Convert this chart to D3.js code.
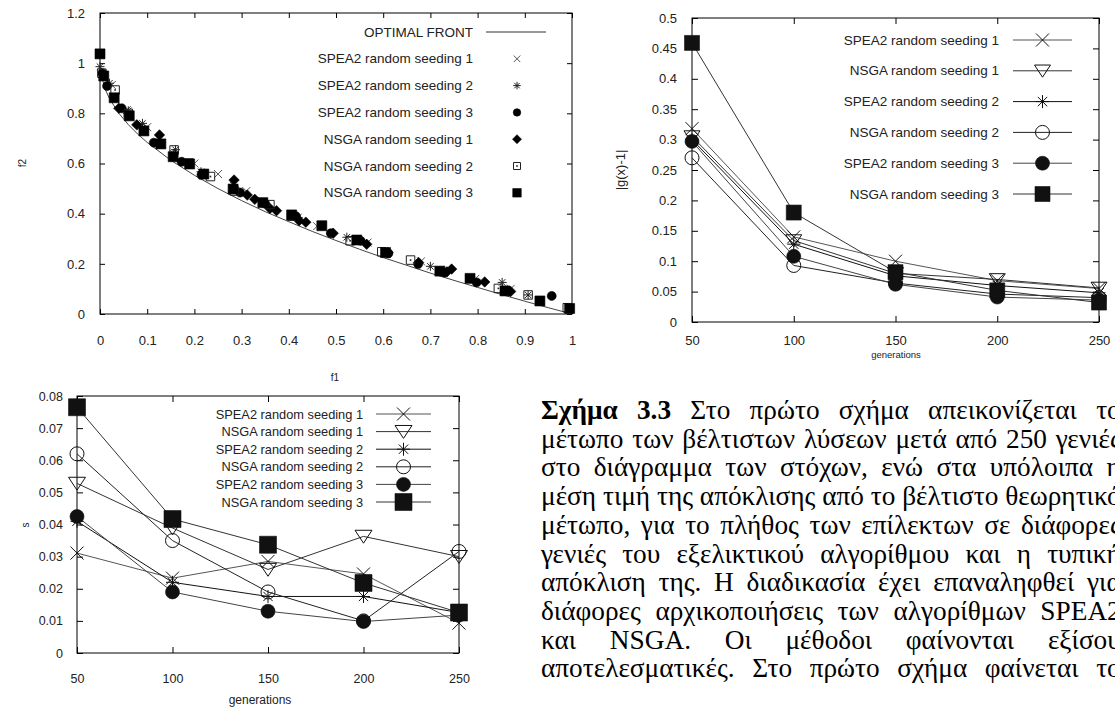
<!DOCTYPE html>
<html>
<head>
<meta charset="utf-8">
<script src="https://cdn.jsdelivr.net/npm/d3@7"></script>
<style>
  html, body { margin: 0; padding: 0; background: #fff; overflow: hidden; }
  svg { display: block; }
</style>
</head>
<body>
<svg id="fig" width="1115" height="709"></svg>
<script>
// ---------------- data ----------------
// Analytical optimal front (f1, f2)
const optimalFront = [
  [0.001, 0.968], [0.01, 0.9], [0.02, 0.859], [0.04, 0.8], [0.06, 0.755], [0.08, 0.717],
  [0.1, 0.684], [0.15, 0.613], [0.2, 0.553], [0.25, 0.5], [0.3, 0.452], [0.35, 0.408],
  [0.4, 0.368], [0.45, 0.329], [0.5, 0.293], [0.55, 0.258], [0.6, 0.225], [0.65, 0.194],
  [0.7, 0.163], [0.75, 0.134], [0.8, 0.106], [0.85, 0.078], [0.9, 0.051], [0.95, 0.025], [1, 0]
];

// Non-dominated sets after 250 generations (f1, f2)
const frontSpea2Seed1 = [
  [0.025, 0.913], [0.057, 0.813], [0.1, 0.745], [0.2, 0.6], [0.25, 0.558], [0.31, 0.49],
  [0.46, 0.35], [0.567, 0.285], [0.68, 0.21], [0.795, 0.14], [0.87, 0.1]
];
const frontSpea2Seed2 = [
  [0, 0.986], [0.02, 0.92], [0.06, 0.81], [0.09, 0.76], [0.155, 0.64], [0.16, 0.655],
  [0.214, 0.567], [0.282, 0.515], [0.42, 0.385], [0.523, 0.306], [0.7, 0.19], [0.852, 0.126], [0.907, 0.076]
];
const frontSpea2Seed3 = [
  [0.005, 0.96], [0.015, 0.909], [0.046, 0.82], [0.114, 0.683], [0.173, 0.607], [0.215, 0.555],
  [0.297, 0.484], [0.35, 0.44], [0.415, 0.39], [0.489, 0.322], [0.552, 0.292], [0.611, 0.242],
  [0.674, 0.199], [0.73, 0.165], [0.798, 0.126], [0.957, 0.072]
];
const frontNsgaSeed1 = [
  [0.04, 0.82], [0.078, 0.754], [0.126, 0.714], [0.284, 0.534], [0.312, 0.474], [0.328, 0.457],
  [0.36, 0.421], [0.374, 0.412], [0.422, 0.372], [0.436, 0.366], [0.494, 0.322], [0.565, 0.278],
  [0.61, 0.245], [0.675, 0.205], [0.735, 0.168], [0.745, 0.179], [0.815, 0.128], [0.87, 0.09]
];
const frontNsgaSeed2 = [
  [0.004, 0.96], [0.032, 0.893], [0.06, 0.8], [0.157, 0.654], [0.189, 0.602], [0.234, 0.548],
  [0.285, 0.49], [0.36, 0.436], [0.406, 0.39], [0.53, 0.292], [0.597, 0.248], [0.658, 0.215],
  [0.844, 0.102], [0.907, 0.076], [0.99, 0.025]
];
const frontNsgaSeed3 = [
  [0, 1.037], [0.008, 0.949], [0.03, 0.862], [0.062, 0.79], [0.093, 0.73], [0.129, 0.678],
  [0.155, 0.627], [0.19, 0.598], [0.22, 0.558], [0.282, 0.498], [0.345, 0.444], [0.406, 0.395],
  [0.47, 0.352], [0.544, 0.295], [0.605, 0.245], [0.72, 0.171], [0.784, 0.142], [0.858, 0.092],
  [0.932, 0.052], [0.995, 0.022]
];

const generations = [50, 100, 150, 200, 250];

// Mean deviation |g(x)-1| per generation
const gSpea2Seed1 = [0.318, 0.14, 0.1, 0.068, 0.055];
const gNsgaSeed1  = [0.305, 0.134, 0.08, 0.07, 0.056];
const gSpea2Seed2 = [0.3, 0.128, 0.076, 0.06, 0.048];
const gNsgaSeed2  = [0.27, 0.093, 0.064, 0.046, 0.04];
const gSpea2Seed3 = [0.297, 0.108, 0.062, 0.041, 0.036];
const gNsgaSeed3  = [0.459, 0.18, 0.082, 0.052, 0.032];

// Standard deviation s per generation
const sSpea2Seed1 = [0.0311, 0.0233, 0.0285, 0.0246, 0.0093];
const sNsgaSeed1  = [0.0528, 0.0389, 0.026, 0.0363, 0.030];
const sSpea2Seed2 = [0.041, 0.022, 0.0176, 0.0176, 0.0126];
const sNsgaSeed2  = [0.062, 0.035, 0.019, 0.010, 0.0316];
const sSpea2Seed3 = [0.0425, 0.019, 0.013, 0.0098, 0.0118];
const sNsgaSeed3  = [0.0765, 0.0417, 0.0337, 0.0218, 0.0126];

// Axis ticks and labels
const f1Ticks = [0, 0.1, 0.2, 0.3, 0.4, 0.5, 0.6, 0.7, 0.8, 0.9, 1];
const f1Labels = ["0", "0.1", "0.2", "0.3", "0.4", "0.5", "0.6", "0.7", "0.8", "0.9", "1"];
const f2Ticks = [0, 0.2, 0.4, 0.6, 0.8, 1, 1.2];
const f2Labels = ["0", "0.2", "0.4", "0.6", "0.8", "1", "1.2"];
const genLabels = ["50", "100", "150", "200", "250"];
const gTicks = [0, 0.05, 0.1, 0.15, 0.2, 0.25, 0.3, 0.35, 0.4, 0.45, 0.5];
const gLabels = ["0", "0.05", "0.1", "0.15", "0.2", "0.25", "0.3", "0.35", "0.4", "0.45", "0.5"];
const sTicks = [0, 0.01, 0.02, 0.03, 0.04, 0.05, 0.06, 0.07, 0.08];
const sLabels = ["0", "0.01", "0.02", "0.03", "0.04", "0.05", "0.06", "0.07", "0.08"];

// Caption lines (Greek)
const captionLines = [
  "Σχήμα 3.3 Στο πρώτο σχήμα απεικονίζεται το",
  "μέτωπο των βέλτιστων λύσεων μετά από 250 γενιές",
  "στο διάγραμμα των στόχων, ενώ στα υπόλοιπα η",
  "μέση τιμή της απόκλισης από το βέλτιστο θεωρητικό",
  "μέτωπο, για το πλήθος των επίλεκτων σε διάφορες",
  "γενιές του εξελικτικού αλγορίθμου και η τυπική",
  "απόκλιση της. Η διαδικασία έχει επαναληφθεί για",
  "διάφορες αρχικοποιήσεις των αλγορίθμων SPEA2",
  "και NSGA. Οι μέθοδοι φαίνονται εξίσου",
  "αποτελεσματικές. Στο πρώτο σχήμα φαίνεται το"
];

// ---------------- helpers ----------------
const SANS = "'Liberation Sans', Arial, Helvetica, sans-serif";
const SERIF = "'Liberation Serif', 'Times New Roman', serif";
const svg = d3.select("#fig");
svg.append("rect").attr("width", 1115).attr("height", 709).attr("fill", "#fff");

function markerPath(type, s) {
  const h = s / 2, k = h * 0.72;
  switch (type) {
    case "x": return `M${-h},${-h}L${h},${h}M${-h},${h}L${h},${-h}`;
    case "star": return `M${-h},0L${h},0M0,${-h}L0,${h}M${-k},${-k}L${k},${k}M${-k},${k}L${k},${-k}`;
    case "tri": return `M${-h},${-h * 0.72}L${h},${-h * 0.72}L0,${h * 0.8}Z`;
    case "square": case "box": return `M${-h},${-h}H${h}V${h}H${-h}Z`;
    case "diamond": return `M0,${-h}L${h},0L0,${h}L${-h},0Z`;
    default: return `M${h},0A${h},${h} 0 1,1 ${-h},0A${h},${h} 0 1,1 ${h},0Z`;
  }
}

function drawMarker(g, type, s, x, y, color) {
  const filled = ["square", "diamond", "dot"].includes(type);
  g.append("path")
    .attr("d", markerPath(type, s))
    .attr("transform", `translate(${x},${y})`)
    .attr("fill", filled ? color : "none")
    .attr("stroke", color)
    .attr("stroke-width", filled ? 0.6 : 1);
  if (type === "box") {
    g.append("rect").attr("x", x - 0.8).attr("y", y - 0.8).attr("width", 1.6).attr("height", 1.6).attr("fill", color);
  }
}

function frame(g, x, y, xTicks, xLabels, yTicks, yLabels, o) {
  const [x0, x1] = x.range(), [yb, yt] = y.range();
  const styleAxis = sel => {
    sel.select(".domain").remove();
    sel.selectAll(".tick line").attr("stroke", "#000");
    sel.selectAll("text").attr("font-family", SANS).attr("font-size", o.font).attr("fill", "#222");
  };
  g.append("g").attr("transform", `translate(0,${yb})`)
    .call(d3.axisBottom(x).tickValues(xTicks).tickFormat((d, i) => xLabels[i])
      .tickSizeInner(-o.tick).tickSizeOuter(0).tickPadding(o.xPad)).call(styleAxis);
  g.append("g").attr("transform", `translate(${x0},0)`)
    .call(d3.axisLeft(y).tickValues(yTicks).tickFormat((d, i) => yLabels[i])
      .tickSizeInner(-o.tick).tickSizeOuter(0).tickPadding(o.yPad)).call(styleAxis);
  g.append("g").attr("transform", `translate(0,${yt})`)
    .call(d3.axisTop(x).tickValues(xTicks).tickFormat("").tickSizeInner(-o.tick).tickSizeOuter(0)).call(styleAxis);
  g.append("g").attr("transform", `translate(${x1},0)`)
    .call(d3.axisRight(y).tickValues(yTicks).tickFormat("").tickSizeInner(-o.tick).tickSizeOuter(0)).call(styleAxis);
  g.append("rect").attr("x", x0).attr("y", yt).attr("width", x1 - x0).attr("height", yb - yt)
    .attr("fill", "none").attr("stroke", "#000").attr("stroke-width", 1);
}

function label(g, text, x, y, size, rotate) {
  g.append("text").attr("x", x).attr("y", y)
    .attr("transform", rotate ? `rotate(-90,${x},${y})` : null)
    .attr("text-anchor", "middle").attr("dominant-baseline", "central")
    .attr("font-family", SANS).attr("font-size", size).attr("fill", "#222").text(text);
}

// ---------------- chart 1: objective space ----------------
{
  const g = svg.append("g");
  const x = d3.scaleLinear().domain([0, 1]).range([100, 572]);
  const y = d3.scaleLinear().domain([0, 1.2]).range([314, 13]);
  frame(g, x, y, f1Ticks, f1Labels, f2Ticks, f2Labels, { tick: 5, xPad: 22, yPad: 15, font: 13 });
  label(g, "f1", 335, 377, 10);
  label(g, "f2", 22, 163, 10, true);

  const line = d3.line().x(d => x(d[0])).y(d => y(d[1]));
  g.append("path").datum(optimalFront).attr("d", line)
    .attr("fill", "none").attr("stroke", "#444").attr("stroke-width", 1);

  const sets = [
    { name: "SPEA2 random seeding 1", data: frontSpea2Seed1, type: "x", s: 8, c: "#555" },
    { name: "SPEA2 random seeding 2", data: frontSpea2Seed2, type: "star", s: 9, c: "#222" },
    { name: "SPEA2 random seeding 3", data: frontSpea2Seed3, type: "dot", s: 9, c: "#000" },
    { name: "NSGA random seeding 1", data: frontNsgaSeed1, type: "diamond", s: 10.5, c: "#000" },
    { name: "NSGA random seeding 2", data: frontNsgaSeed2, type: "box", s: 8.5, c: "#222" },
    { name: "NSGA random seeding 3", data: frontNsgaSeed3, type: "square", s: 10, c: "#000" }
  ];
  sets.forEach(st => st.data.forEach(d => drawMarker(g, st.type, st.s, x(d[0]), y(d[1]), st.c)));

  // legend
  const rowY = i => 32 + i * 26.8;
  const lg = g.append("g");
  lg.append("text").attr("x", 473).attr("y", rowY(0)).attr("text-anchor", "end")
    .attr("dominant-baseline", "central").attr("font-family", SANS).attr("font-size", 13.5)
    .attr("fill", "#222").text("OPTIMAL FRONT");
  lg.append("line").attr("x1", 486).attr("x2", 546).attr("y1", rowY(0)).attr("y2", rowY(0))
    .attr("stroke", "#333");
  sets.forEach((st, i) => {
    lg.append("text").attr("x", 473).attr("y", rowY(i + 1)).attr("text-anchor", "end")
      .attr("dominant-baseline", "central").attr("font-family", SANS).attr("font-size", 13.5)
      .attr("fill", "#222").text(st.name);
    drawMarker(lg, st.type, st.s - 1.5, 517, rowY(i + 1), st.c);
  });
}

// shared series styling for the convergence plots
const runStyles = [
  { name: "SPEA2 random seeding 1", type: "x", line: "#555" },
  { name: "NSGA random seeding 1", type: "tri", line: "#333" },
  { name: "SPEA2 random seeding 2", type: "star", line: "#111" },
  { name: "NSGA random seeding 2", type: "circle", line: "#222" },
  { name: "SPEA2 random seeding 3", type: "dot", line: "#444" },
  { name: "NSGA random seeding 3", type: "square", line: "#333" }
];

function convergencePlot(o) {
  const g = svg.append("g");
  const x = d3.scaleLinear().domain([50, 250]).range(o.xr);
  const y = d3.scaleLinear().domain(o.yd).range(o.yr);
  frame(g, x, y, generations, genLabels, o.yTicks, o.yLabels, { tick: 6, xPad: o.xPad, yPad: o.yPad, font: o.font });
  label(g, "generations", o.genPos[0], o.genPos[1], o.genSize);
  label(g, o.yTitle, o.yTitlePos[0], o.yTitlePos[1], o.yTitleSize, true);

  const line = d3.line().x((d, i) => x(generations[i])).y(d => y(d));
  o.series.forEach((vals, k) => {
    const st = runStyles[k];
    g.append("path").datum(vals).attr("d", line).attr("fill", "none")
      .attr("stroke", st.line).attr("stroke-width", 1);
  });
  o.series.forEach((vals, k) => {
    const st = runStyles[k];
    vals.forEach((v, i) => drawMarker(g, st.type, o.ms[st.type], x(generations[i]), y(v), "#111"));
  });

  const lg = g.append("g");
  runStyles.forEach((st, i) => {
    const yy = o.legY + i * o.legStep;
    lg.append("text").attr("x", o.legText).attr("y", yy).attr("text-anchor", "end")
      .attr("dominant-baseline", "central").attr("font-family", SANS).attr("font-size", o.legFont)
      .attr("fill", "#222").text(st.name);
    lg.append("line").attr("x1", o.legLine[0]).attr("x2", o.legLine[1]).attr("y1", yy).attr("y2", yy)
      .attr("stroke", st.line);
    drawMarker(lg, st.type, o.ms[st.type], (o.legLine[0] + o.legLine[1]) / 2, yy, "#111");
  });
}

// ---------------- chart 2: mean deviation ----------------
convergencePlot({
  xr: [692, 1099], yd: [0, 0.5], yr: [322, 18],
  yTicks: gTicks, yLabels: gLabels, xPad: 14, yPad: 15, font: 13,
  genPos: [896, 354], genSize: 9.5,
  yTitle: "|g(x)-1|", yTitlePos: [620, 170], yTitleSize: 13,
  series: [gSpea2Seed1, gNsgaSeed1, gSpea2Seed2, gNsgaSeed2, gSpea2Seed3, gNsgaSeed3],
  ms: { x: 13, tri: 16, star: 13, circle: 14, dot: 14, square: 15 },
  legText: 999, legLine: [1013, 1072], legY: 40, legStep: 30.8, legFont: 13.5
});

// ---------------- chart 3: standard deviation ----------------
convergencePlot({
  xr: [77, 459], yd: [0, 0.08], yr: [653, 396],
  yTicks: sTicks, yLabels: sLabels, xPad: 21, yPad: 14, font: 12.5,
  genPos: [260, 700], genSize: 12,
  yTitle: "s", yTitlePos: [25, 525], yTitleSize: 10,
  series: [sSpea2Seed1, sNsgaSeed1, sSpea2Seed2, sNsgaSeed2, sSpea2Seed3, sNsgaSeed3],
  ms: { x: 13, tri: 17, star: 13, circle: 14, dot: 14, square: 17 },
  legText: 363, legLine: [376, 431], legY: 414, legStep: 17.6, legFont: 12.8
});

// ---------------- caption (justified block running past the right edge) ----------------
{
  const cg = svg.append("g");
  const left = 541, lead = 28.7, base0 = 419;
  const meas = cg.append("text").attr("font-family", SERIF).attr("visibility", "hidden");
  // size the type so the tightest line sets the block width
  meas.attr("font-size", 24).text(captionLines[3]);
  const size = 24 * 580 / meas.node().getComputedTextLength();
  meas.attr("font-size", size);
  meas.text(captionLines[3]);
  const width = meas.node().getComputedTextLength();
  captionLines.forEach((ln, li) => {
    const words = ln.split(" ");
    const info = words.map((w, wi) => {
      const bold = li === 0 && wi < 2;
      meas.attr("font-weight", bold ? "bold" : "normal").text(w);
      return { w, bold, len: meas.node().getComputedTextLength() };
    });
    const total = d3.sum(info, d => d.len);
    const gap = (width - total) / (info.length - 1);
    let xx = left;
    info.forEach(d => {
      cg.append("text").attr("x", xx).attr("y", base0 + li * lead)
        .attr("font-family", SERIF).attr("font-size", size)
        .attr("font-weight", d.bold ? "bold" : "normal").attr("fill", "#000").text(d.w);
      xx += d.len + gap;
    });
  });
  meas.remove();
}
</script>
</body>
</html>
